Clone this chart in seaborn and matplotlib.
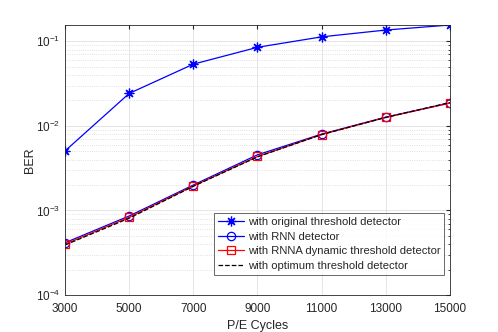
import numpy as np
import pandas as pd
import matplotlib
matplotlib.use("Agg")
import matplotlib.pyplot as plt
import seaborn as sns
from matplotlib.ticker import LogLocator, NullFormatter

# Data
pe_cycles = [3000, 5000, 7000, 9000, 11000, 13000, 15000]
ber_original = [5.05e-3, 0.0242, 0.0537, 0.0850, 0.113, 0.136, 0.156]
ber_rnn = [4.15e-4, 8.6e-4, 2.0e-3, 4.55e-3, 8.0e-3, 0.0127, 0.0187]
ber_rnna = [4.0e-4, 8.3e-4, 1.95e-3, 4.35e-3, 7.9e-3, 0.0126, 0.0186]
ber_optimum = [3.9e-4, 8.1e-4, 1.93e-3, 4.3e-3, 7.9e-3, 0.0126, 0.0189]

labels = ["with original threshold detector",
          "with RNN detector",
          "with RNNA dynamic threshold detector",
          "with optimum threshold detector"]

df = pd.DataFrame({
    "P/E Cycles": pe_cycles * 4,
    "BER": ber_original + ber_rnn + ber_rnna + ber_optimum,
    "series": np.repeat(labels, len(pe_cycles)),
})

sns.set_style("white")
plt.rcParams['font.family'] = ['Liberation Sans', 'DejaVu Sans']
plt.rcParams['font.size'] = 8.5

fig = plt.figure(figsize=(4.98, 3.32), dpi=100)
ax = fig.add_axes([0.1305, 0.1114, 0.7731, 0.8133])

styles = {
    labels[0]: dict(color="#0000ff", marker=(8, 2, 0), linestyle="-", markersize=7,
                    markerfacecolor="#0000ff"),
    labels[1]: dict(color="#0000ff", marker="o", linestyle="-", markersize=6,
                    markerfacecolor="none"),
    labels[2]: dict(color="#ff0000", marker="s", linestyle="-", markersize=5.5,
                    markerfacecolor="none"),
    labels[3]: dict(color="#000000", marker=None, linestyle="--"),
}

for lab in labels:
    sub = df[df["series"] == lab]
    st = styles[lab]
    sns.lineplot(data=sub, x="P/E Cycles", y="BER", ax=ax, label=lab,
                 color=st["color"], marker=st["marker"], linestyle=st["linestyle"],
                 markersize=st.get("markersize", 6),
                 markerfacecolor=st.get("markerfacecolor", st["color"]),
                 markeredgecolor=st["color"], markeredgewidth=0.9,
                 linewidth=0.9)

ax.set_yscale("log")
ax.set_xlim(3000, 15000)
ax.set_ylim(1e-4, 0.156)
ax.set_xticks(pe_cycles)
ax.set_xticklabels([str(v) for v in pe_cycles])
ax.yaxis.set_major_locator(LogLocator(base=10, numticks=10))
ax.yaxis.set_minor_locator(LogLocator(base=10, subs=np.arange(2, 10), numticks=20))
ax.yaxis.set_minor_formatter(NullFormatter())

ax.grid(True, which="major", color="#e0e0e0", linewidth=0.6, linestyle="-")
ax.grid(True, which="minor", axis="y", color="#d8d8d8", linewidth=0.6, linestyle=":")
ax.set_axisbelow(True)

for sp in ax.spines.values():
    sp.set_color("#262626")
    sp.set_linewidth(0.6)
ax.tick_params(which="both", direction="in", top=True, right=True,
               colors="#262626", labelsize=8.5, length=3)
ax.tick_params(which="minor", length=1.8)
ax.tick_params(axis="x", pad=6)

ax.set_xlabel("P/E Cycles", fontsize=9, color="#262626", labelpad=3)
ax.set_ylabel("BER", fontsize=9, color="#262626", labelpad=0)

leg = ax.legend(loc="lower right", bbox_to_anchor=(0.985, 0.075), fontsize=8.1,
                frameon=True, fancybox=False, edgecolor="#262626",
                handlelength=2.3, borderpad=0.35, labelspacing=0.4,
                handletextpad=0.3, borderaxespad=0.0)
leg.get_frame().set_linewidth(0.6)

fig.savefig("out.png", dpi=100)
